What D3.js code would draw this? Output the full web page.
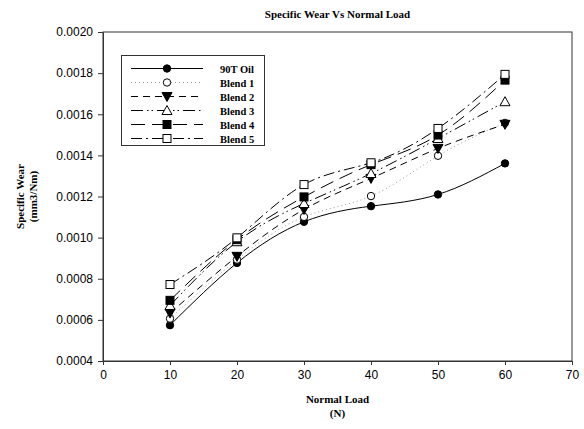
<!DOCTYPE html>
<html>
<head>
<meta charset="utf-8">
<script src="https://cdn.jsdelivr.net/npm/d3@7"></script>
<style>
  body { margin: 0; background: #fff; }
  text { fill: #000; }
</style>
</head>
<body>
<svg id="chart" width="584" height="429"></svg>
<script>
// chart data
var loads = [10, 20, 30, 40, 50, 60];
var oil90T = [0.000574, 0.000877, 0.001077, 0.001153, 0.001210, 0.001361];
var blend1 = [0.000606, 0.000893, 0.001101, 0.001202, 0.001398, 0.001558];
var blend2 = [0.000633, 0.000909, 0.001137, 0.001288, 0.001434, 0.001551];
var blend3 = [0.000670, 0.000980, 0.001166, 0.001312, 0.001482, 0.001661];
var blend4 = [0.000695, 0.000990, 0.001198, 0.001355, 0.001499, 0.001766];
var blend5 = [0.000772, 0.000999, 0.001258, 0.001364, 0.001531, 0.001794];
var seriesNames = ["90T Oil", "Blend 1", "Blend 2", "Blend 3", "Blend 4", "Blend 5"];
var xTicks = [0, 10, 20, 30, 40, 50, 60, 70];
var yTicks = [0.0004, 0.0006, 0.0008, 0.0010, 0.0012, 0.0014, 0.0016, 0.0018, 0.0020];

function specificWear() {
    var series = [
        {name: seriesNames[0], values: oil90T, marker: "circle", fill: "#000", dash: null, stroke: "#000"},
        {name: seriesNames[1], values: blend1, marker: "circle", fill: "#fff", dash: "1,3", stroke: "#999"},
        {name: seriesNames[2], values: blend2, marker: "tridown", fill: "#000", dash: "7,5", stroke: "#000"},
        {name: seriesNames[3], values: blend3, marker: "triup", fill: "#fff", dash: "12,4,1.5,3,1.5,4", stroke: "#000"},
        {name: seriesNames[4], values: blend4, marker: "square", fill: "#000", dash: "14,7", stroke: "#000"},
        {name: seriesNames[5], values: blend5, marker: "square", fill: "#fff", dash: "11,4,2,4", stroke: "#000"}
    ];

    var svg = d3.select("#chart"),
        pl = 103, pr = 572, pt = 32, pb = 361;

    var x = d3.scaleLinear().domain([0, 70]).range([pl, pr]),
        y = d3.scaleLinear().domain([0.0004, 0.0020]).range([pb, pt]);

    var serif = "Liberation Serif, Times New Roman, serif";

    // title
    svg.append("text")
       .attr("x", (pl + pr) / 2)
       .attr("y", 18)
       .attr("text-anchor", "middle")
       .attr("font-family", serif)
       .attr("font-weight", "bold")
       .attr("font-size", "11px")
       .text("Specific Wear Vs Normal Load");

    // frame
    svg.append("rect")
       .attr("x", pl).attr("y", pt)
       .attr("width", pr - pl).attr("height", pb - pt)
       .attr("fill", "none")
       .attr("stroke", "#333")
       .attr("stroke-width", 1);

    var xAxis = svg.append("g")
       .attr("transform", "translate(0," + pb + ")")
       .call(d3.axisBottom(x).tickValues(xTicks).tickSize(4).tickSizeOuter(0).tickPadding(5));

    var yAxis = svg.append("g")
       .attr("transform", "translate(" + pl + ",0)")
       .call(d3.axisLeft(y).tickValues(yTicks).tickSize(5).tickSizeOuter(0).tickPadding(5)
            .tickFormat(d3.format(".4f")));

    [xAxis, yAxis].forEach(function(a) {
        a.selectAll("text")
         .attr("font-family", "Liberation Sans, Arial, sans-serif")
         .attr("font-size", "12px")
         .style("fill", "#000");
        a.selectAll("line").attr("stroke", "#333");
        a.select(".domain").attr("stroke", "#333");
    });

    // axis titles
    svg.append("text")
       .attr("x", (pl + pr) / 2)
       .attr("y", 403)
       .attr("text-anchor", "middle")
       .attr("font-family", serif)
       .attr("font-weight", "bold")
       .attr("font-size", "11px")
       .text("Normal Load");

    svg.append("text")
       .attr("x", (pl + pr) / 2)
       .attr("y", 417)
       .attr("text-anchor", "middle")
       .attr("font-family", serif)
       .attr("font-weight", "bold")
       .attr("font-size", "11px")
       .text("(N)");

    svg.append("text")
       .attr("transform", "translate(24," + (pt + pb) / 2 + ") rotate(-90)")
       .attr("text-anchor", "middle")
       .attr("font-family", serif)
       .attr("font-weight", "bold")
       .attr("font-size", "11px")
       .text("Specific Wear");

    svg.append("text")
       .attr("transform", "translate(37," + (pt + pb) / 2 + ") rotate(-90)")
       .attr("text-anchor", "middle")
       .attr("font-family", serif)
       .attr("font-weight", "bold")
       .attr("font-size", "11px")
       .text("(mm3/Nm)");

    // markers
    function drawMarker(g, kind, cx, cy, fill) {
        if (kind === "circle") {
            g.append("circle").attr("cx", cx).attr("cy", cy).attr("r", 3.7)
             .attr("fill", fill).attr("stroke", "#000").attr("stroke-width", 1);
        } else if (kind === "square") {
            g.append("rect").attr("x", cx - 4).attr("y", cy - 4).attr("width", 8).attr("height", 8)
             .attr("fill", fill).attr("stroke", "#000").attr("stroke-width", 1);
        } else if (kind === "triup") {
            g.append("path").attr("d", "M" + cx + "," + (cy - 5) + "L" + (cx + 5) + "," + (cy + 4) + "L" + (cx - 5) + "," + (cy + 4) + "Z")
             .attr("fill", fill).attr("stroke", "#000").attr("stroke-width", 1);
        } else if (kind === "tridown") {
            g.append("path").attr("d", "M" + cx + "," + (cy + 5) + "L" + (cx + 5) + "," + (cy - 4) + "L" + (cx - 5) + "," + (cy - 4) + "Z")
             .attr("fill", fill).attr("stroke", "#000").attr("stroke-width", 1);
        }
    }

    var line = d3.line()
        .x(function(d, i) { return x(loads[i]); })
        .y(function(d) { return y(d); })
        .curve(d3.curveNatural);

    var plot = svg.append("g");

    series.forEach(function(s) {
        plot.append("path")
            .datum(s.values)
            .attr("d", line)
            .attr("fill", "none")
            .attr("stroke", s.stroke)
            .attr("stroke-width", 1)
            .attr("stroke-dasharray", s.dash);
    });

    series.forEach(function(s) {
        var g = plot.append("g");
        s.values.forEach(function(v, i) {
            drawMarker(g, s.marker, x(loads[i]), y(v), s.fill);
        });
    });

    // legend
    var legend = svg.append("g");
    legend.append("rect")
       .attr("x", 121.5).attr("y", 55.5)
       .attr("width", 143).attr("height", 90)
       .attr("fill", "#fff")
       .attr("stroke", "#333");

    series.forEach(function(s, i) {
        var ly = 68.5 + i * 14;
        legend.append("line")
           .attr("x1", 131).attr("x2", 203)
           .attr("y1", ly).attr("y2", ly)
           .attr("stroke", s.stroke)
           .attr("stroke-width", 1)
           .attr("stroke-dasharray", s.dash);
        drawMarker(legend, s.marker, 167, ly, s.fill);
        legend.append("text")
           .attr("x", 220).attr("y", ly + 4)
           .attr("font-family", serif)
           .attr("font-weight", "bold")
           .attr("font-size", "10.5px")
           .text(s.name);
    });
}

specificWear();
</script>
</body>
</html>
